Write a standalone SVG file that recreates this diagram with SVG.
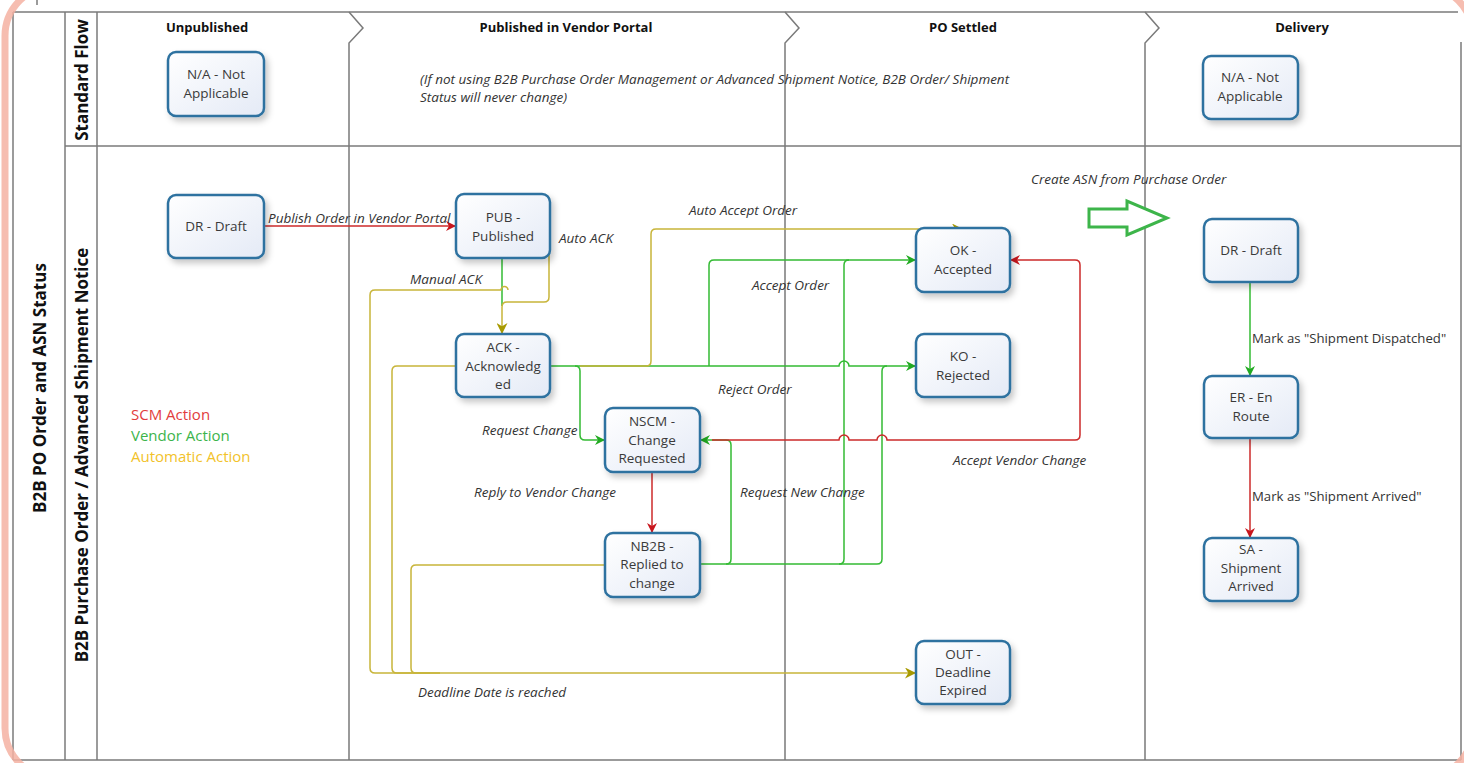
<svg xmlns="http://www.w3.org/2000/svg" width="1464" height="763" viewBox="0 0 1464 763">
<defs>
<linearGradient id="nodeFill" x1="0" y1="0" x2="1" y2="1">
<stop offset="0" stop-color="#ffffff"/>
<stop offset="1" stop-color="#e4eaf6"/>
</linearGradient>
<filter id="shadow" x="-20%" y="-20%" width="150%" height="150%">
<feDropShadow dx="3" dy="4" stdDeviation="3" flood-color="#000" flood-opacity="0.22"/>
</filter>
<marker id="aRed" viewBox="0 0 10 10" refX="10" refY="5" markerWidth="10" markerHeight="10" markerUnits="userSpaceOnUse" orient="auto">
<path d="M0,0 L10,5 L0,10 L3,5 Z" fill="#c8161d"/>
</marker>
<marker id="aGreen" viewBox="0 0 10 10" refX="10" refY="5" markerWidth="10" markerHeight="10" markerUnits="userSpaceOnUse" orient="auto">
<path d="M0,0 L10,5 L0,10 L3,5 Z" fill="#22aa22"/>
</marker>
<marker id="aOlive" viewBox="0 0 10 10" refX="10" refY="5" markerWidth="11" markerHeight="11" markerUnits="userSpaceOnUse" orient="auto">
<path d="M0,0 L10,5 L0,10 L3,5 Z" fill="#a89a00"/>
</marker>
</defs>
<style>
.frame{fill:none;stroke:#7a7a7a;stroke-width:1.5}
.node rect{fill:url(#nodeFill);stroke:#2f72a0;stroke-width:2.5;filter:url(#shadow)}
.node text{font-family:"Open Sans","Noto Sans",sans-serif;font-size:13.5px;fill:#3a3a3a;text-anchor:middle}
.hdr{font-family:"Open Sans","Noto Sans",sans-serif;font-size:13px;font-weight:700;fill:#111;text-anchor:middle}
.lane{font-family:"Open Sans","Noto Sans",sans-serif;font-size:17px;font-weight:700;fill:#111;text-anchor:middle}
.lbl{font-family:"Open Sans","Noto Sans",sans-serif;font-size:13.5px;font-style:italic;fill:#333}
.lblr{font-family:"Open Sans","Noto Sans",sans-serif;font-size:13.2px;fill:#333}
.red{fill:none;stroke:#cc2a2a;stroke-width:1.5}
.green{fill:none;stroke:#33bb33;stroke-width:1.5}
.yel{fill:none;stroke:#c8b53a;stroke-width:1.5}
.legend{font-family:"Open Sans","Noto Sans",sans-serif;font-size:15px}
</style>
<rect width="1464" height="763" fill="#ffffff"/>
<g id="frame">
<line class="frame" x1="37" y1="0" x2="37" y2="5"/>
<line class="frame" x1="13" y1="12" x2="1458" y2="12"/>
<line class="frame" x1="13" y1="12" x2="13" y2="760"/>
<line class="frame" x1="65" y1="12" x2="65" y2="760"/>
<line class="frame" x1="97" y1="12" x2="97" y2="760"/>
<line class="frame" x1="1461" y1="42" x2="1461" y2="760"/>
<line class="frame" x1="13" y1="760" x2="1461" y2="760"/>
<line class="frame" x1="65" y1="146" x2="1461" y2="146"/>
<path class="frame" d="M349,12 L363,28 L349,43 V760"/>
<path class="frame" d="M785,12 L799,28 L785,43 V760"/>
<path class="frame" d="M1145,12 L1159,28 L1145,43 V760"/>
<text class="hdr" x="207" y="32">Unpublished</text>
<text class="hdr" x="566" y="32">Published in Vendor Portal</text>
<text class="hdr" x="963" y="32">PO Settled</text>
<text class="hdr" x="1302" y="32">Delivery</text>
<text class="lane" transform="translate(88,80) rotate(-90)">Standard Flow</text>
<text class="lane" transform="translate(88,455) rotate(-90)">B2B Purchase Order / Advanced Shipment Notice</text>
<text class="lane" transform="translate(46,388) rotate(-90)">B2B PO Order and ASN Status</text>
<text class="lbl" x="420" y="84" font-size="13.8">(If not using B2B Purchase Order Management or Advanced Shipment Notice, B2B Order/ Shipment</text>
<text class="lbl" x="420" y="102" font-size="13.8">Status will never change)</text>
</g>
<g id="legend" class="legend">
<text x="131" y="420" fill="#e23c3c">SCM Action</text>
<text x="131" y="441" fill="#3cb44b">Vendor Action</text>
<text x="131" y="462" fill="#f2c22a">Automatic Action</text>
</g>
<g id="connectors">
<path class="red" d="M264,226 H456" marker-end="url(#aRed)"/>
<path class="green" d="M502,258 V306"/>
<path class="yel" d="M549,238 V297 Q549,302 544,302 H507 Q502,302 502,307 V334" marker-end="url(#aOlive)"/>
<path class="yel" d="M508,290 A3.5,3.5 0 0 0 501,290 H375 Q370,290 370,295 V668 Q370,673 375,673 H916" marker-end="url(#aOlive)"/>
<path class="yel" d="M456,366 H397 Q392,366 392,371 V668 Q392,673 397,673 H430"/>
<path class="yel" d="M605,565 H416 Q411,565 411,570 V668 Q411,673 416,673 H440"/>
<path class="green" d="M550,366 H839 A5,5 0 0 1 849,366 H916" marker-end="url(#aGreen)"/>
<path class="green" d="M575,366 Q580,366 580,371 V435 Q580,440 585,440 H605" marker-end="url(#aGreen)"/>
<path class="yel" d="M580,366 H646 Q651,366 651,361 V234 Q651,229 656,229 H963" marker-end="url(#aOlive)"/>
<path class="green" d="M709,366 V265 Q709,260 714,260 H916" marker-end="url(#aGreen)"/>
<path class="green" d="M700,564 H877 Q882,564 882,559 V371 Q882,366 887,366"/>
<path class="green" d="M839,564 Q844,564 844,559 V265 Q844,260 849,260"/>
<path class="green" d="M726,564 Q731,564 731,559 V445 Q731,440 726,440 H700" marker-end="url(#aGreen)"/>
<path class="red" d="M712,440 H839 A5,5 0 0 1 849,440 H877 A5,5 0 0 1 887,440 H1075 Q1080,440 1080,435 V265 Q1080,260 1075,260 H1010" marker-end="url(#aRed)"/>
<path class="red" d="M652,472 V533" marker-end="url(#aRed)"/>
<path class="green" d="M1250,282 V376" marker-end="url(#aGreen)"/>
<path class="red" d="M1250,438 V538" marker-end="url(#aRed)"/>
<polygon points="1089,209 1127,209 1127,201 1167,218 1127,235 1127,227 1089,227" fill="#ffffff" stroke="#3db54a" stroke-width="3"/>
<text class="lbl" x="268" y="223">Publish Order in Vendor Portal</text>
<text class="lbl" x="559" y="243">Auto ACK</text>
<text class="lbl" x="410" y="284">Manual ACK</text>
<text class="lbl" x="689" y="215">Auto Accept Order</text>
<text class="lbl" x="752" y="290">Accept Order</text>
<text class="lbl" x="718" y="394">Reject Order</text>
<text class="lbl" x="482" y="435">Request Change</text>
<text class="lbl" x="474" y="497">Reply to Vendor Change</text>
<text class="lbl" x="740" y="497">Request New Change</text>
<text class="lbl" x="953" y="465">Accept Vendor Change</text>
<text class="lbl" x="418" y="697">Deadline Date is reached</text>
<text class="lbl" x="1031" y="184">Create ASN from Purchase Order</text>
<text class="lblr" x="1252" y="343">Mark as "Shipment Dispatched"</text>
<text class="lblr" x="1252" y="501">Mark as "Shipment Arrived"</text>
</g>
<g id="na-unpublished" class="node"><rect x="168" y="52" width="96" height="64" rx="8"/><text x="216" y="79">N/A - Not</text><text x="216" y="98">Applicable</text></g>
<g id="na-delivery" class="node"><rect x="1203" y="56" width="95" height="63" rx="8"/><text x="1250" y="82">N/A - Not</text><text x="1250" y="101">Applicable</text></g>
<g id="dr-draft" class="node"><rect x="168" y="195" width="96" height="63" rx="8"/><text x="216" y="231">DR - Draft</text></g>
<g id="pub" class="node"><rect x="456" y="194" width="94" height="64" rx="8"/><text x="503" y="222">PUB -</text><text x="503" y="241">Published</text></g>
<g id="ack" class="node"><rect x="456" y="334" width="94" height="63" rx="8"/><text x="503" y="352">ACK -</text><text x="503" y="371">Acknowledg</text><text x="503" y="389">ed</text></g>
<g id="nscm" class="node"><rect x="605" y="408" width="95" height="64" rx="8"/><text x="652" y="426">NSCM -</text><text x="652" y="445">Change</text><text x="652" y="463">Requested</text></g>
<g id="nb2b" class="node"><rect x="605" y="533" width="95" height="64" rx="8"/><text x="652" y="551">NB2B -</text><text x="652" y="569">Replied to</text><text x="652" y="588">change</text></g>
<g id="ok" class="node"><rect x="916" y="228" width="94" height="64" rx="8"/><text x="963" y="255">OK -</text><text x="963" y="274">Accepted</text></g>
<g id="ko" class="node"><rect x="916" y="334" width="94" height="63" rx="8"/><text x="963" y="361">KO -</text><text x="963" y="380">Rejected</text></g>
<g id="out" class="node"><rect x="916" y="641" width="94" height="63" rx="8"/><text x="963" y="659">OUT -</text><text x="963" y="677">Deadline</text><text x="963" y="695">Expired</text></g>
<g id="dr-delivery" class="node"><rect x="1204" y="219" width="94" height="63" rx="8"/><text x="1251" y="255">DR - Draft</text></g>
<g id="er" class="node"><rect x="1204" y="376" width="94" height="62" rx="8"/><text x="1251" y="402">ER - En</text><text x="1251" y="421">Route</text></g>
<g id="sa" class="node"><rect x="1204" y="538" width="94" height="63" rx="8"/><text x="1251" y="554">SA -</text><text x="1251" y="573">Shipment</text><text x="1251" y="591">Arrived</text></g>
<rect x="5" y="-14" width="1468" height="792" rx="50" fill="none" stroke="#f5b2a2" stroke-width="7" opacity="0.85"/>
</svg>
